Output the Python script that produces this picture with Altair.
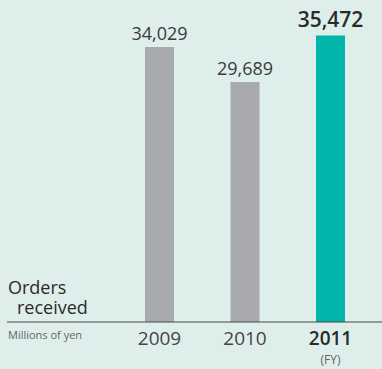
import altair as alt
import pandas as pd

years = ["2009", "2010", "2011"]
values = [34029, 29689, 35472]
highlight = [False, False, True]

df = pd.DataFrame({"year": years, "value": values, "hl": highlight})
one = pd.DataFrame({"k": [0]})

FONT = "Open Sans"
BG = "#deefeb"

x = alt.X("year:N", scale=alt.Scale(type="point", range=[159.5, 330.5], padding=0), axis=None)
y = alt.Y("value:Q", scale=alt.Scale(domain=[0, 39850], nice=False, zero=True), axis=None)

base = alt.Chart(df).encode(x=x)

bars = base.mark_bar(size=29).encode(
    y=y,
    color=alt.condition("datum.hl", alt.value("#00b5a9"), alt.value("#a7a9ac")),
)

lab_norm = base.transform_filter("!datum.hl").mark_text(
    font=FONT, fontSize=18, color="#3a3a3a", baseline="alphabetic", dy=-7
).encode(y=y, text=alt.Text("value:Q", format=","))

lab_hl = base.transform_filter("datum.hl").mark_text(
    font=FONT, fontSize=21, fontWeight=600, color="#2a2a2a", baseline="alphabetic", dy=-8
).encode(y=y, text=alt.Text("value:Q", format=","))

yr_norm = base.transform_filter("!datum.hl").mark_text(
    font=FONT, fontSize=19, color="#444444", baseline="alphabetic"
).encode(y=alt.value(345), text="year:N")

yr_hl = base.transform_filter("datum.hl").mark_text(
    font=FONT, fontSize=19, fontWeight=600, color="#2a2a2a", baseline="alphabetic"
).encode(y=alt.value(345), text="year:N")

fy = base.transform_filter("datum.hl").mark_text(
    font=FONT, fontSize=12, color="#666666", baseline="alphabetic"
).encode(y=alt.value(364), text=alt.value("(FY)"))

rule = alt.Chart(one).mark_rule(color="#4a4a4a", strokeWidth=1.2).encode(
    x=alt.value(7), x2=alt.value(382), y=alt.value(322)
)

orders = alt.Chart(one).mark_text(
    font=FONT, fontSize=18, color="#2a2a2a", align="left", baseline="alphabetic"
).encode(x=alt.value(8), y=alt.value(294), text=alt.value("Orders"))

received = alt.Chart(one).mark_text(
    font=FONT, fontSize=18, color="#2a2a2a", align="left", baseline="alphabetic"
).encode(x=alt.value(17), y=alt.value(314), text=alt.value("received"))

millions = alt.Chart(one).mark_text(
    font=FONT, fontSize=11, color="#666666", align="left", baseline="alphabetic"
).encode(x=alt.value(8), y=alt.value(339), text=alt.value("Millions of yen"))

chart = alt.layer(
    bars, lab_norm, lab_hl, rule, yr_norm, yr_hl, fy, orders, received, millions
).properties(
    width=382,
    height=322,
    autosize=alt.AutoSizeParams(type="none"),
    padding={"left": 0, "top": 0, "right": 0, "bottom": 47},
    background=BG,
).configure_view(stroke=None)

chart.save("out.html", embed_options={"renderer": "svg", "actions": False})
